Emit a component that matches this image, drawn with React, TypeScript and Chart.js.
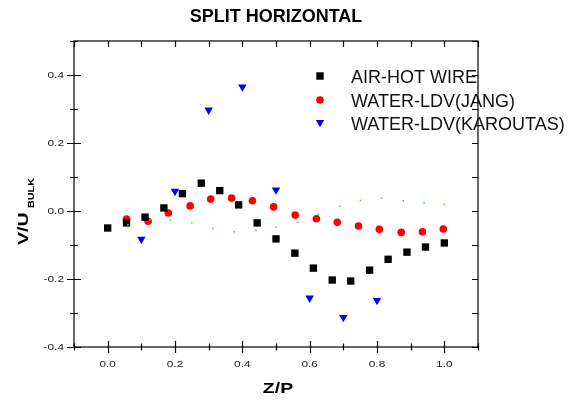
import React, { useEffect, useRef } from 'react';
import { Chart, registerables } from 'chart.js';

Chart.register(...registerables);

const titleText = 'SPLIT HORIZONTAL';
const xTitle = 'Z/P';
const yTitleMain = 'V/U';
const yTitleSub = 'BULK';

const airLabel = 'AIR-HOT WIRE';
const jangLabel = 'WATER-LDV(JANG)';
const karLabel = 'WATER-LDV(KAROUTAS)';

const airX = [0.0, 0.056, 0.111, 0.167, 0.222, 0.278, 0.333, 0.389, 0.444, 0.5, 0.556, 0.611, 0.667, 0.722, 0.778, 0.833, 0.889, 0.944, 1.0];
const airY = [-0.05, -0.035, -0.018, 0.009, 0.051, 0.082, 0.06, 0.018, -0.035, -0.082, -0.124, -0.168, -0.203, -0.206, -0.174, -0.142, -0.121, -0.106, -0.094];

const jangX = [0.056, 0.12, 0.18, 0.245, 0.306, 0.368, 0.43, 0.493, 0.557, 0.62, 0.682, 0.745, 0.807, 0.872, 0.935, 0.997];
const jangY = [-0.024, -0.03, -0.006, 0.015, 0.035, 0.038, 0.03, 0.012, -0.012, -0.023, -0.033, -0.044, -0.054, -0.063, -0.061, -0.053];

const karX = [0.1, 0.2, 0.3, 0.4, 0.5, 0.6, 0.7, 0.8];
const karY = [-0.083, 0.058, 0.297, 0.365, 0.062, -0.256, -0.313, -0.263];

const greenX = [0.06, 0.125, 0.187, 0.25, 0.312, 0.376, 0.44, 0.5, 0.564, 0.626, 0.689, 0.751, 0.813, 0.878, 0.94, 1.0];
const greenY = [-0.04, -0.026, -0.027, -0.034, -0.051, -0.061, -0.057, -0.048, -0.033, -0.01, 0.014, 0.031, 0.037, 0.03, 0.024, 0.02];

const xMin = -0.1, xMax = 1.1, yMin = -0.4, yMax = 0.5;
const xLabelMin = 0.0, xLabelMax = 1.0, yLabelMin = -0.4, yLabelMax = 0.4;

const FONT = '"Liberation Sans", Arial, sans-serif';

const pts = (xs: number[], ys: number[]) => xs.map((x, i) => ({ x, y: ys[i] }));

function stretchText(ctx: CanvasRenderingContext2D, text: string, x: number, y: number, sx: number, align: string) {
  ctx.save();
  ctx.translate(x, y);
  ctx.scale(sx, 1);
  const w = ctx.measureText(text).width;
  const dx = align === 'center' ? -w / 2 : align === 'right' ? -w : 0;
  ctx.textAlign = 'left';
  ctx.fillText(text, dx, 0);
  ctx.restore();
}

const framePlugin = {
  id: 'framePlugin',
  afterDraw(chart: any) {
    const ctx: CanvasRenderingContext2D = chart.ctx;
    const { left, right, top, bottom } = chart.chartArea;
    const xs = chart.scales.x;
    const ys = chart.scales.y;
    ctx.save();
    ctx.strokeStyle = '#000';
    ctx.lineWidth = 1.2;
    ctx.strokeRect(left, top, right - left, bottom - top);

    ctx.beginPath();
    xs.ticks.forEach((t: any) => {
      const k = Math.round(t.value * 10);
      const major = k % 2 === 0;
      const px = Math.round(xs.getPixelForValue(t.value)) + 0.5;
      const l = major ? 6 : 3.5;
      ctx.moveTo(px, bottom - l);
      ctx.lineTo(px, bottom + l);
      ctx.moveTo(px, top);
      ctx.lineTo(px, top + 6);
    });
    ys.ticks.forEach((t: any) => {
      const k = Math.round(t.value * 10);
      const major = k % 2 === 0;
      const py = Math.round(ys.getPixelForValue(t.value)) + 0.5;
      const l = major ? 7 : 4;
      ctx.moveTo(left - l, py);
      ctx.lineTo(left + l, py);
      ctx.moveTo(right, py);
      ctx.lineTo(right - 6, py);
    });
    ctx.stroke();

    ctx.fillStyle = '#222';
    ctx.font = `9.5px ${FONT}`;
    ctx.textBaseline = 'alphabetic';
    xs.ticks.forEach((t: any) => {
      const k = Math.round(t.value * 10);
      const v = k / 10;
      if (k % 2 !== 0 || v < xLabelMin - 1e-9 || v > xLabelMax + 1e-9) return;
      stretchText(ctx, v.toFixed(1), xs.getPixelForValue(v), 367, 1.25, 'center');
    });
    ys.ticks.forEach((t: any) => {
      const k = Math.round(t.value * 10);
      const v = k / 10;
      if (k % 2 !== 0 || v < yLabelMin - 1e-9 || v > yLabelMax + 1e-9) return;
      const label = (v === 0 ? 0 : v).toFixed(1);
      stretchText(ctx, label, 64, ys.getPixelForValue(v) + 3.4, 1.25, 'right');
    });

    ctx.fillStyle = '#000';
    ctx.font = `bold 18px ${FONT}`;
    ctx.textAlign = 'center';
    ctx.fillText(titleText, (left + right) / 2, 22);

    ctx.font = `bold 15px ${FONT}`;
    stretchText(ctx, xTitle, 278, 393, 1.3, 'center');

    ctx.save();
    ctx.translate(28, 245);
    ctx.rotate(-Math.PI / 2);
    ctx.font = `bold 14.5px ${FONT}`;
    stretchText(ctx, yTitleMain, 0, 0, 1.35, 'left');
    ctx.font = `bold 9px ${FONT}`;
    stretchText(ctx, yTitleSub, 37, 6, 1.2, 'left');
    ctx.restore();

    const lx = 320;
    const rows = [
      { y: 76, label: airLabel, kind: 'square', color: '#000' },
      { y: 100, label: jangLabel, kind: 'circle', color: '#ff0000' },
      { y: 123, label: karLabel, kind: 'tri', color: '#0000ff' },
    ];
    rows.forEach((r) => {
      ctx.fillStyle = r.color;
      ctx.beginPath();
      if (r.kind === 'square') {
        ctx.rect(lx - 3.7, r.y - 3.7, 7.4, 7.4);
      } else if (r.kind === 'circle') {
        ctx.arc(lx, r.y, 3.8, 0, Math.PI * 2);
      } else {
        ctx.moveTo(lx - 4.2, r.y - 3);
        ctx.lineTo(lx + 4.2, r.y - 3);
        ctx.lineTo(lx, r.y + 4.2);
        ctx.closePath();
      }
      ctx.fill();
      ctx.fillStyle = '#111';
      ctx.font = `18px ${FONT}`;
      ctx.textAlign = 'left';
      ctx.fillText(r.label, 351, r.y + 7);
    });
    ctx.restore();
  },
};

export default function App() {
  const ref = useRef<HTMLCanvasElement | null>(null);
  useEffect(() => {
    if (!ref.current) return;
    const chart = new Chart(ref.current, {
      type: 'scatter',
      data: {
        datasets: [
          {
            label: 'green',
            data: pts(greenX, greenY),
            pointStyle: 'rect',
            pointRadius: 1.1,
            backgroundColor: '#33dd33',
            borderWidth: 0,
          },
          {
            label: airLabel,
            data: pts(airX, airY),
            pointStyle: 'rect',
            pointRadius: 5.2,
            backgroundColor: '#000',
            borderWidth: 0,
          },
          {
            label: jangLabel,
            data: pts(jangX, jangY),
            pointStyle: 'circle',
            pointRadius: 3.8,
            backgroundColor: '#ff0000',
            borderWidth: 0,
          },
          {
            label: karLabel,
            data: pts(karX, karY),
            pointStyle: 'triangle',
            rotation: 180,
            pointRadius: 4.9,
            backgroundColor: '#0000ff',
            borderWidth: 0,
          },
        ],
      } as any,
      options: {
        responsive: false,
        animation: false,
        events: [],
        layout: { padding: { left: 0, right: 102, top: 41, bottom: 0 } },
        plugins: {
          legend: { display: false },
          tooltip: { enabled: false },
          title: { display: false },
        },
        scales: {
          x: {
            type: 'linear',
            min: xMin,
            max: xMax,
            ticks: { stepSize: 0.1, display: false },
            grid: { display: false },
            border: { display: false },
            afterFit: (s: any) => { s.height = 54; },
          },
          y: {
            type: 'linear',
            min: yMin,
            max: yMax,
            ticks: { stepSize: 0.1, display: false },
            grid: { display: false },
            border: { display: false },
            afterFit: (s: any) => { s.width = 74; },
          },
        },
      } as any,
      plugins: [framePlugin],
    });
    return () => chart.destroy();
  }, []);
  return (
    <div style={{ position: 'fixed', left: 0, top: 0, width: 580, height: 401, background: '#fff' }}>
      <canvas ref={ref} width={580} height={401} />
    </div>
  );
}
